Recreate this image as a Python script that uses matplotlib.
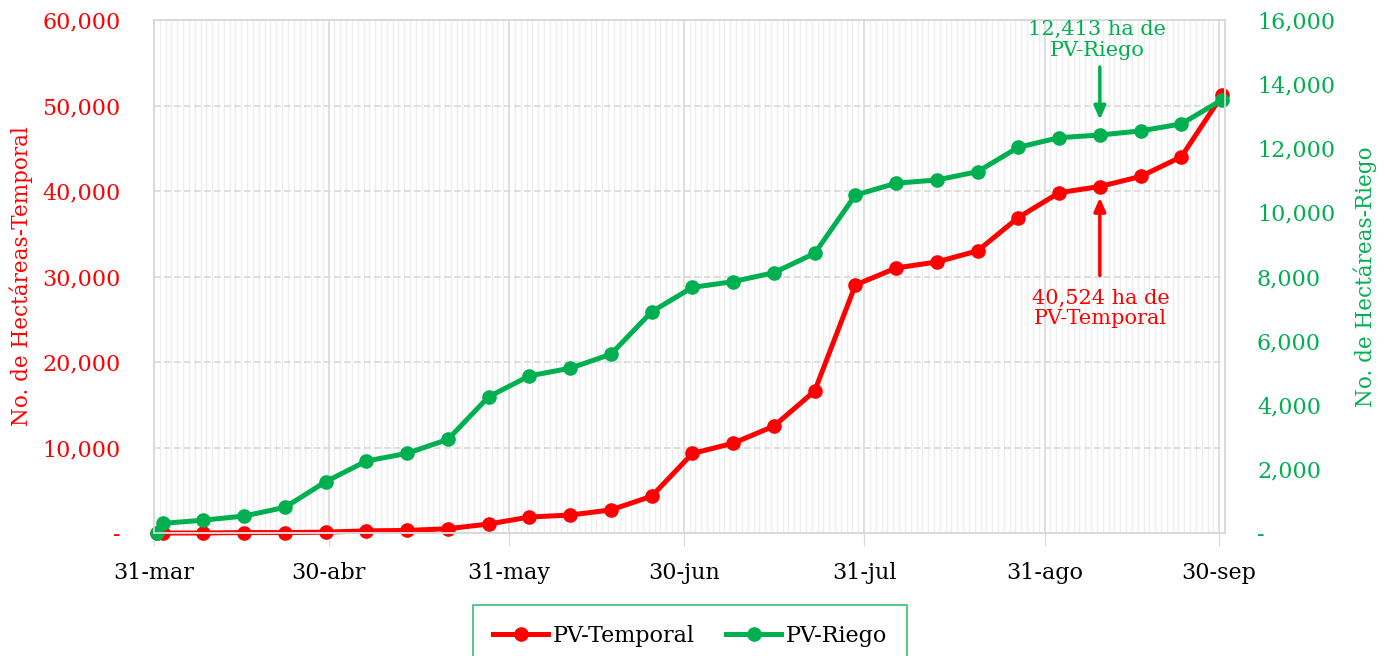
import numpy as np
import pandas as pd
import matplotlib
matplotlib.use("Agg")
import matplotlib.pyplot as plt
from matplotlib.lines import Line2D

# weekly cut-off dates
dates = ["2021-03-31", "2021-04-01", "2021-04-08", "2021-04-15", "2021-04-22", "2021-04-29",
         "2021-05-06", "2021-05-13", "2021-05-20", "2021-05-27", "2021-06-03", "2021-06-10",
         "2021-06-17", "2021-06-24", "2021-07-01", "2021-07-08", "2021-07-15", "2021-07-22",
         "2021-07-29", "2021-08-05", "2021-08-12", "2021-08-19", "2021-08-26", "2021-09-02",
         "2021-09-09", "2021-09-16", "2021-09-23", "2021-09-30"]

temporal = [0, 0, 0, 50, 50, 100, 250, 300, 500, 1050, 1870, 2100, 2700, 4300, 9300,
            10500, 12500, 16600, 29000, 31000, 31700, 33000, 36900, 39800, 40524, 41700,
            44000, 51200]
riego = [0, 300, 400, 530, 800, 1600, 2245, 2485, 2920, 4250, 4900, 5140, 5575, 6900, 7660,
         7840, 8120, 8720, 10540, 10910, 11010, 11270, 12030, 12330, 12413, 12540, 12760, 13510]

tick_dates = ["2021-03-31", "2021-04-30", "2021-05-31", "2021-06-30", "2021-07-31",
              "2021-08-31", "2021-09-30"]
tick_labels = ["31-mar", "30-abr", "31-may", "30-jun", "31-jul", "31-ago", "30-sep"]

left_ticks = [0, 10000, 20000, 30000, 40000, 50000, 60000]
right_ticks = [0, 2000, 4000, 6000, 8000, 10000, 12000, 14000, 16000]

RED = "#ff0000"
GREEN = "#00b050"
GRID = "#d9d9d9"
FS = 16

plt.rcParams["font.family"] = ["DejaVu Serif"]

# Excel-style date axis: points sit in the middle of each day
x = pd.to_datetime(dates) + pd.Timedelta(hours=12)
xt = pd.to_datetime(tick_dates)

fig = plt.figure(figsize=(13.85, 6.56), dpi=100)
ax = fig.add_axes([154 / 1385, 1 - 533 / 656, (1225 - 154) / 1385, (533 - 20) / 656])
ax2 = ax.twinx()

ax.set_xlim(pd.Timestamp("2021-03-31"), pd.Timestamp("2021-10-01"))
ax.set_ylim(0, 60000)
ax2.set_ylim(0, 16000)

# grid
ax.set_xticks(xt)
ax.set_xticklabels(tick_labels, fontsize=FS)
ax.set_xticks(pd.date_range("2021-03-31", "2021-10-01", freq="D"), minor=True)
ax.grid(which="minor", axis="x", color="#eeeeee", lw=1)
ax.grid(which="major", axis="x", color=GRID, lw=1.2)
ax.grid(which="major", axis="y", color=GRID, lw=1.2, linestyle=(0, (4, 2)))
ax.set_axisbelow(True)

fmt = lambda v: "-" if v == 0 else f"{v:,.0f}"
ax.set_yticks(left_ticks)
ax.set_yticklabels([fmt(v) for v in left_ticks], color=RED, fontsize=FS)
ax2.set_yticks(right_ticks)
ax2.set_yticklabels([fmt(v) for v in right_ticks], color=GREEN, fontsize=FS)

ax.tick_params(axis="x", which="major", length=9, color=GRID, pad=12)
ax.tick_params(axis="x", which="minor", length=0)
ax.tick_params(axis="y", length=0, pad=24)
ax2.tick_params(axis="y", length=0, pad=23)
for a in (ax, ax2):
    for s in a.spines.values():
        s.set_color(GRID)
        s.set_linewidth(1.2)

ax.set_ylabel("No. de Hectáreas-Temporal", color=RED, fontsize=15.5, va="center")
ax2.set_ylabel("No. de Hectáreas-Riego", color=GREEN, fontsize=15.5, va="center")
ax.yaxis.set_label_coords(-0.124, 0.5)
ax2.yaxis.set_label_coords(1.131, 0.5)

ax.plot(x, temporal, color=RED, lw=3.6, marker="o", ms=9.5, solid_capstyle="round", clip_on=False)
ax2.plot(x, riego, color=GREEN, lw=3.6, marker="o", ms=9.5, solid_capstyle="round", clip_on=False)

# annotations
i = dates.index("2021-09-09")
ax2.annotate("", xy=(x[i], riego[i]), xytext=(0, 68), textcoords="offset pixels",
             arrowprops=dict(arrowstyle="-|>,head_length=0.8,head_width=0.35", color=GREEN,
                             lw=2.5, shrinkA=0, shrinkB=11))
ax2.annotate("12,413 ha de\nPV-Riego", xy=(x[i], riego[i]), xytext=(-3, 95),
             textcoords="offset pixels", ha="center", va="center", color=GREEN,
             fontsize=15, linespacing=1.1)
ax.annotate("", xy=(x[i], temporal[i]), xytext=(0, -89), textcoords="offset pixels",
            arrowprops=dict(arrowstyle="-|>,head_length=0.8,head_width=0.35", color=RED,
                            lw=2.5, shrinkA=0, shrinkB=8))
ax.annotate("40,524 ha de\nPV-Temporal", xy=(x[i], temporal[i]), xytext=(1, -122),
            textcoords="offset pixels", ha="center", va="center", color=RED,
            fontsize=15, linespacing=1.1)

handles = [Line2D([], [], color=RED, lw=3.6, marker="o", ms=9.5),
           Line2D([], [], color=GREEN, lw=3.6, marker="o", ms=9.5)]
leg = fig.legend(handles, ["PV-Temporal", "PV-Riego"], loc="upper center",
                 bbox_to_anchor=(690 / 1385, 1 - 605 / 656), ncol=2, fontsize=FS,
                 frameon=True, fancybox=False, edgecolor=GREEN, handlelength=2.5,
                 columnspacing=1.4, handletextpad=0.2, borderpad=0.9, borderaxespad=0)
leg.get_frame().set_linewidth(1.2)

fig.savefig("out.png", dpi=100)
